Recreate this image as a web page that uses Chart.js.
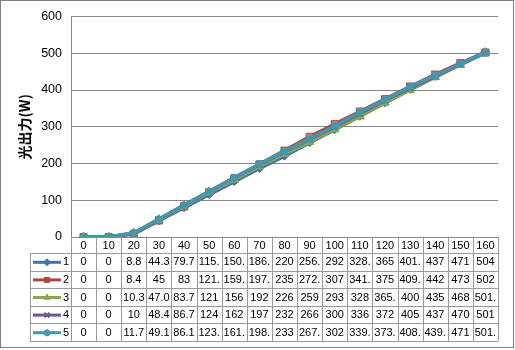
<!DOCTYPE html>
<html><head><meta charset="utf-8">
<script src="https://cdn.jsdelivr.net/npm/chart.js@4"></script>
<style>html,body{margin:0;padding:0;background:#fff}#w{width:515px;height:350px}</style>
</head><body><div id="w"><canvas id="c" width="515" height="350"></canvas></div>
<script>
const categories = ['0','10','20','30','40','50','60','70','80','90','100','110','120','130','140','150','160'];
const series1 = [0,0,8.8,44.3,79.7,115.4,150.6,186.3,220,256.4,292,328.4,365,401.3,437,471,504];
const series2 = [0,0,8.4,45,83,121.5,159.3,197.6,235,272.5,307,341.4,375,409.5,442,473,502];
const series3 = [0,0,10.3,47.04,83.7,121,156,192,226,259,293,328,365.4,400,435,468,501.4];
const series4 = [0,0,10,48.4,86.7,124,162,197,232,266,300,336,372,405,437,470,501];
const series5 = [0,0,11.7,49.1,86.1,123.5,161.4,198.5,233,267.4,302,339.5,373.5,408.5,439.5,471,501.5];
const seriesNames = ['1','2','3','4','5'];
const seriesColors = ['#4572A7','#AA4643','#89A54E','#71588F','#4198AF'];
const markerStyles = ['rectRot','rect','triangle','crossRot','star'];
const yMin = 0, yMax = 600, yStep = 100;
const yTitle = '光出力(W)';

const allSeries = [series1, series2, series3, series4, series5];

const tablePlugin = {
  id: 'dataTable',
  afterDraw(chart) {
    const ctx = chart.ctx;
    const x = chart.scales.x;
    const area = chart.chartArea;
    const n = categories.length;
    const cellW = (area.right - area.left) / n;
    const headTop = area.bottom, headBot = area.bottom + 16;
    const rowH = 17.6;
    const tableLeft = 30;
    const tableBot = headBot + rowH * allSeries.length;
    ctx.save();
    ctx.strokeStyle = '#9a9a9a';
    ctx.lineWidth = 1;
    ctx.beginPath();
    for (let i = 0; i <= n; i++) {
      const px = Math.round(area.left + i * cellW) + 0.5;
      ctx.moveTo(px, headTop); ctx.lineTo(px, tableBot);
    }
    ctx.moveTo(tableLeft + 0.5, headBot); ctx.lineTo(tableLeft + 0.5, tableBot);
    for (let r = 0; r <= allSeries.length; r++) {
      const py = Math.round(headBot + r * rowH) + 0.5;
      ctx.moveTo(tableLeft, py); ctx.lineTo(area.right, py);
    }
    ctx.stroke();
    ctx.fillStyle = '#000';
    ctx.font = "11px 'Liberation Sans'";
    ctx.textAlign = 'center';
    ctx.textBaseline = 'middle';
    categories.forEach((c, i) => {
      ctx.fillText(c, x.getPixelForValue(i), (headTop + headBot) / 2 + 1);
    });
    allSeries.forEach((s, r) => {
      const cy = headBot + r * rowH + rowH / 2 + 0.5;
      s.forEach((v, i) => {
        let t = String(v);
        while (t.length > 1 && ctx.measureText(t).width > cellW - 3) t = t.slice(0, -1);
        ctx.fillText(t, x.getPixelForValue(i), cy);
      });
      ctx.strokeStyle = seriesColors[r];
      ctx.lineWidth = 3;
      ctx.beginPath(); ctx.moveTo(33, cy); ctx.lineTo(61, cy); ctx.stroke();
      ctx.fillStyle = seriesColors[r];
      ctx.lineWidth = (r === 3 || r === 4) ? 2 : 1;
      Chart.helpers.drawPoint(ctx, {pointStyle: markerStyles[r], radius: 3.5, rotation: 0, borderWidth: ctx.lineWidth}, 47, cy);
      ctx.fillStyle = '#000';
      ctx.textAlign = 'left';
      ctx.fillText(seriesNames[r], 63, cy);
      ctx.textAlign = 'center';
    });
    ctx.strokeStyle = '#7f7f7f';
    ctx.lineWidth = 1;
    ctx.strokeRect(0.5, 0.5, 513, 347);
    ctx.restore();
  }
};

new Chart(document.getElementById('c'), {
  type: 'line',
  data: {
    labels: categories,
    datasets: allSeries.map((s, i) => ({
      label: seriesNames[i],
      data: s,
      borderColor: seriesColors[i],
      backgroundColor: seriesColors[i],
      borderWidth: 3.5,
      pointStyle: markerStyles[i],
      pointRadius: (i === 1 || i === 2) ? 5 : 4,
      pointBorderWidth: (i === 3 || i === 4) ? 2 : 1,
      pointBorderColor: seriesColors[i],
      pointBackgroundColor: i === 1 ? '#C0817F' : seriesColors[i],
      tension: 0,
      order: 5 - i
    }))
  },
  options: {
    responsive: false,
    animation: false,
    devicePixelRatio: 1,
    layout: { padding: { top: 16, right: 17, bottom: 113, left: 0 } },
    plugins: { legend: { display: false }, tooltip: { enabled: false } },
    scales: {
      x: { type: 'category', offset: true, display: false },
      y: {
        min: yMin, max: yMax,
        afterFit(s) { s.width = 71; },
        ticks: { stepSize: yStep, padding: 9, color: '#000', font: { family: "'Liberation Sans'", size: 12.5 } },
        grid: { color: '#888888', drawTicks: false },
        border: { color: '#888888' },
        title: { display: true, text: yTitle, color: '#000', padding: { top: 16, bottom: 0 }, font: { family: "'Noto Sans CJK SC'", size: 14, weight: 'bold' } }
      }
    }
  },
  plugins: [tablePlugin]
});
</script></body></html>
